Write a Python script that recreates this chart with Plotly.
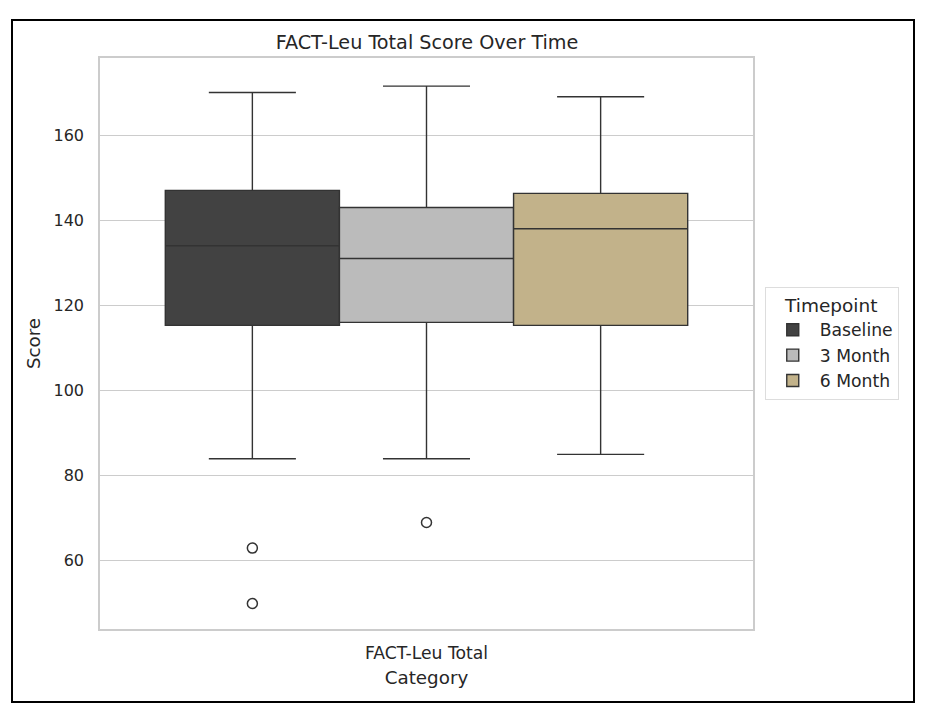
import plotly.graph_objects as go

# box statistics (FACT-Leu total score)
timepoints = ["Baseline", "3 Month", "6 Month"]
lower_fence = [84, 84, 85]
q1 = [115.3, 116, 115.3]
median = [134, 131, 138]
q3 = [147, 143, 146.3]
upper_fence = [170, 171.5, 169]
outliers = {"Baseline": [63, 50], "3 Month": [69], "6 Month": []}

category = "FACT-Leu Total"
colors = ["#424242", "#bbbbbb", "#c2b28a"]
edge = "#333333"

# page has an 8px body margin, so the figure is 8px smaller each way
W, H = 920, 714
L, R, T, B = 92, 175, 50, 93
box_w = 0.8 / 3
positions = [-box_w, 0, box_w]

fig = go.Figure()
for i, tp in enumerate(timepoints):
    fig.add_trace(go.Box(
        name=tp, x=[positions[i]],
        q1=[q1[i]], median=[median[i]], q3=[q3[i]],
        lowerfence=[lower_fence[i]], upperfence=[upper_fence[i]],
        width=box_w, whiskerwidth=0.5,
        fillcolor=colors[i], line=dict(color=edge, width=1.4),
        boxpoints=False, hoverinfo="skip",
    ))
    if outliers[tp]:
        fig.add_trace(go.Scatter(
            x=[positions[i]] * len(outliers[tp]), y=outliers[tp],
            mode="markers", showlegend=False, hoverinfo="skip",
            marker=dict(symbol="circle-open", size=10, color=edge,
                        line=dict(width=1.5, color=edge)),
        ))

# black frame round the whole figure
pw, ph = W - L - R, H - T - B
fig.add_shape(
    type="rect", xref="paper", yref="paper",
    x0=(4 - L) / pw, x1=(906 - L) / pw,
    y0=-(694 - (H - B)) / ph, y1=1 + (T - 12) / ph,
    line=dict(color="black", width=2), layer="above",
)

font = "DejaVu Sans, sans-serif"
fig.update_layout(
    width=W, height=H,
    margin=dict(l=L, r=R, t=T, b=B),
    paper_bgcolor="white", plot_bgcolor="white",
    font=dict(family=font, color="#262626", size=16),
    title=dict(text="FACT-Leu Total Score Over Time", x=419 / W, xanchor="center",
               y=1 - 34 / H, yanchor="middle", font=dict(size=19.2)),
    legend=dict(
        title=dict(text="Timepoint", font=dict(size=18.5), side="top center"),
        x=1.018, xanchor="left", y=0.5, yanchor="middle",
        bordercolor="#dddddd", borderwidth=1, font=dict(size=17.2),
        tracegroupgap=0, itemwidth=44,
    ),
    xaxis=dict(
        range=[-0.5, 0.5], tickvals=[0], ticktext=[category],
        title=dict(text="Category", font=dict(size=18.3), standoff=9),
        showgrid=False, zeroline=False,
        showline=True, mirror=True, linecolor="#cccccc", linewidth=1.5,
        ticks="", tickfont=dict(size=17.2), ticklabelstandoff=8,
    ),
    yaxis=dict(
        range=[44.0, 178.1], tickvals=[60, 80, 100, 120, 140, 160],
        title=dict(text="Score", font=dict(size=18.3), standoff=8),
        showgrid=True, gridcolor="#cccccc", gridwidth=1.2, zeroline=False,
        showline=True, mirror=True, linecolor="#cccccc", linewidth=1.5,
        ticks="", tickfont=dict(size=16), ticklabelstandoff=11,
    ),
)

fig.write_html("out.html")
